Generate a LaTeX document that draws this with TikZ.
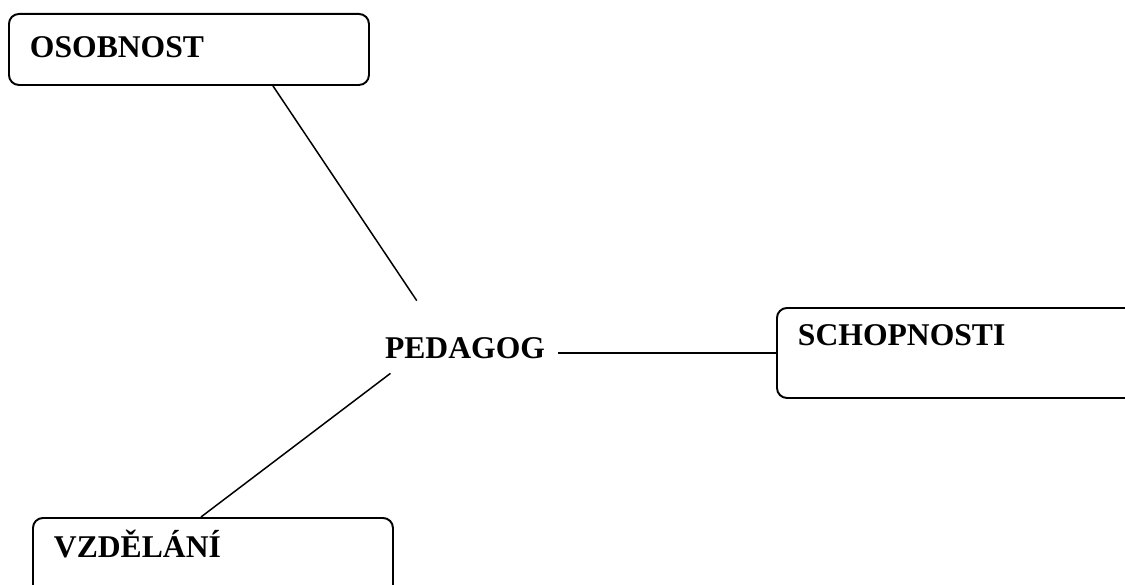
\documentclass[tikz,border=0pt]{standalone}
\usepackage{fontspec}
\setmainfont{Liberation Serif}
\tikzset{
	pojem/.style={draw, line width=1.1pt, rounded corners=0.2cm, anchor=north west, align=left, inner xsep=0.42cm, inner ysep=0pt, font=\fontsize{18}{22}\selectfont\bfseries},
	spoj/.style={line width=0.85pt}
}
\begin{document}
\begin{tikzpicture}
	\useasboundingbox (0,0) rectangle (22.5,11.68);
	\clip (0,0) rectangle (22.5,11.68);%Rand

	\node[pojem, text width=6.36cm, text height=0.88cm, text depth=0.54cm] (osobnost) at (0.16,11.42) {OSOBNOST};
	\node[pojem, text width=6.46cm, text height=0.76cm, text depth=1.04cm] (schopnosti) at (15.52,5.54) {SCHOPNOSTI};
	\node[pojem, text width=6.36cm, text height=0.80cm, text depth=0.86cm] (vzdelani) at (0.64,1.34) {VZDĚLÁNÍ};

	\node[anchor=base, inner xsep=0.26cm, inner ysep=0pt, text height=1.14cm, text depth=0.3cm, font=\fontsize{18}{22}\selectfont\bfseries] (pedagog) at (9.30,4.52) {PEDAGOG};

	\draw[spoj] ([xshift=1.68cm]osobnost.south) -- (pedagog.143);%oben
	\draw[spoj] (pedagog.east |- schopnosti.west) -- (schopnosti.west);%rechts
	\draw[spoj] (pedagog.206) -- ([xshift=-0.24cm]vzdelani.north);%unten
\end{tikzpicture}
\end{document}
